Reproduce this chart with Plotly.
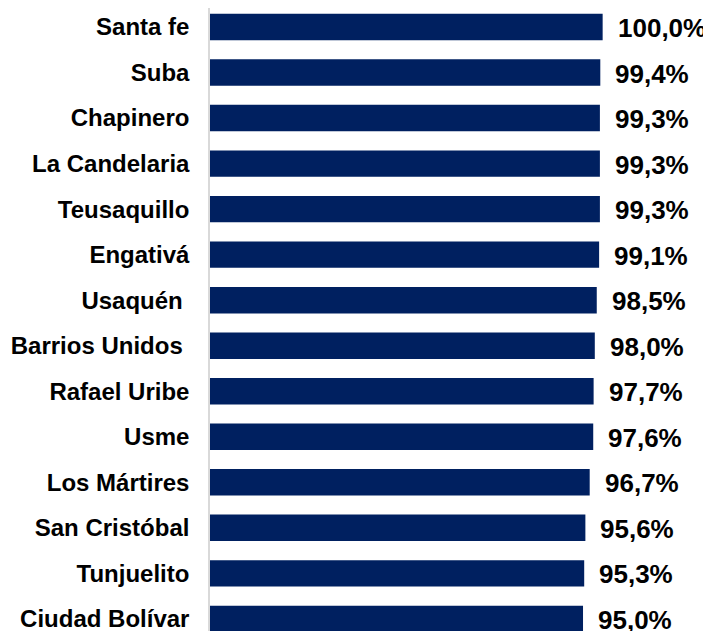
import plotly.graph_objects as go

localidades = ["Santa fe", "Suba", "Chapinero", "La Candelaria", "Teusaquillo",
               "Engativá", "Usaquén\u00a0", "Barrios Unidos\u00a0", "Rafael Uribe",
               "Usme", "Los Mártires", "San Cristóbal", "Tunjuelito", "Ciudad Bolívar"]
porcentajes = [100.0, 99.4, 99.3, 99.3, 99.3, 99.1, 98.5, 98.0, 97.7, 97.6,
               96.7, 95.6, 95.3, 95.0]
etiquetas = [f"{v:.1f}%".replace(".", ",") for v in porcentajes]

font_family = "Liberation Sans, Arial, sans-serif"

fig = go.Figure()
fig.add_trace(go.Bar(
    x=porcentajes,
    y=localidades,
    orientation="h",
    marker=dict(color="#002060", line=dict(width=0)),
    hoverinfo="skip",
))

for loc, val, txt in zip(localidades, porcentajes, etiquetas):
    fig.add_annotation(
        x=val, y=loc, text="<b>" + txt + "</b>",
        showarrow=False, xanchor="left", yanchor="middle",
        xshift=13, yshift=-1,
        font=dict(family=font_family, size=26, color="#000000"),
    )

# the page body has an 8px margin, so the figure is a bit smaller than the window
fig.update_layout(
    width=703, height=623,
    margin=dict(l=202, r=20, t=0, b=0, autoexpand=False),
    paper_bgcolor="white", plot_bgcolor="white",
    showlegend=False,
    bargap=0.42,
    font=dict(family=font_family, color="#000000"),
)
fig.update_xaxes(visible=False, range=[0, 122.5], automargin=False)
fig.update_yaxes(
    categoryorder="array", categoryarray=localidades,
    range=[13.266, -0.417], automargin=False,
    showline=True, linecolor="#d9d9d9", linewidth=1.5,
    showgrid=False, zeroline=False,
    ticks="outside", ticklen=14, tickcolor="rgba(0,0,0,0)",
    tickprefix="<b>", ticksuffix="</b>",
    tickfont=dict(family=font_family, size=24, color="#000000"),
)

fig.write_html("out.html")
